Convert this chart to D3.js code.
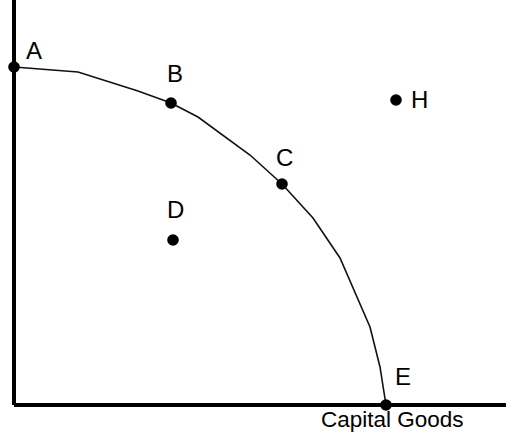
<!DOCTYPE html>
<html>
    <head>
        <meta charset="utf-8">
        <title>PPF</title>
        <script src="https://cdn.jsdelivr.net/npm/d3@7"></script>
        <style>
            body { margin: 0; background: #fff; overflow: hidden; }
            svg { display: block; }
        </style>
    </head>
    <body>
        <svg id="svg"></svg>

        <script>
            var WIDTH = 506;
            var HEIGHT = 433;

            // frontier, in capital goods / consumer goods units (0-100)
            var curveX = [0, 16, 31, 39.25, 46, 59, 67, 74.75, 81.5, 89, 91.5, 93];
            var curveY = [84.5, 83.25, 78.5, 75.5, 72, 62.5, 55.25, 46.75, 36.75, 19.5, 9.5, 0];

            // labelled points
            var pointNames = ["A", "B", "C", "D", "E", "H"];
            var pointX = [0, 39.25, 67, 39.75, 93, 95.5];
            var pointY = [84.5, 75.5, 55.25, 41.25, 0, 76.25];

            var xLabel = "Capital Goods";

            var xScale = d3.scaleLinear().domain([0, 100]).range([14, 414]);
            var yScale = d3.scaleLinear().domain([0, 100]).range([405, 5]);

            var svg = d3.select('#svg')
                        .attr("width", WIDTH)
                        .attr("height", HEIGHT);

            // axes
            svg.append("line")
               .attr("x1", xScale(0)).attr("x2", xScale(0))
               .attr("y1", 0).attr("y2", yScale(0))
               .attr("stroke", "#000").attr("stroke-width", 4);
            svg.append("line")
               .attr("x1", xScale(0)).attr("x2", WIDTH)
               .attr("y1", yScale(0)).attr("y2", yScale(0))
               .attr("stroke", "#000").attr("stroke-width", 4);

            var curve = curveX.map(function(x, i){ return [x, curveY[i]]; });
            var line = d3.line()
                         .x(function(d){ return xScale(d[0]); })
                         .y(function(d){ return yScale(d[1]); });

            svg.append("path")
               .datum(curve)
               .attr("d", line)
               .attr("fill", "none")
               .attr("stroke", "#111")
               .attr("stroke-width", 1.6);

            var points = pointNames.map(function(n, i){
                return {name: n, x: pointX[i], y: pointY[i]};
            });

            svg.selectAll("circle")
               .data(points)
               .enter()
               .append("circle")
               .attr("cx", function(d){ return xScale(d.x); })
               .attr("cy", function(d){ return yScale(d.y); })
               .attr("r", 5.8)
               .attr("fill", "#000");

            // label offsets from each dot
            var offsets = {A: [12, -8], B: [-4, -21], C: [-6, -18], D: [-6, -22], E: [9, -20], H: [15, 8]};

            svg.selectAll("text.pt")
               .data(points)
               .enter()
               .append("text")
               .attr("class", "pt")
               .attr("x", function(d){ return xScale(d.x) + offsets[d.name][0]; })
               .attr("y", function(d){ return yScale(d.y) + offsets[d.name][1]; })
               .attr("font-family", "Liberation Sans, Arial, sans-serif")
               .attr("font-size", "24px")
               .attr("fill", "#000")
               .text(function(d){ return d.name; });

            svg.append("text")
               .attr("x", 321)
               .attr("y", 427)
               .attr("font-family", "Liberation Sans, Arial, sans-serif")
               .attr("font-size", "22.5px")
               .attr("fill", "#000")
               .text(xLabel);
        </script>
    </body>
</html>
